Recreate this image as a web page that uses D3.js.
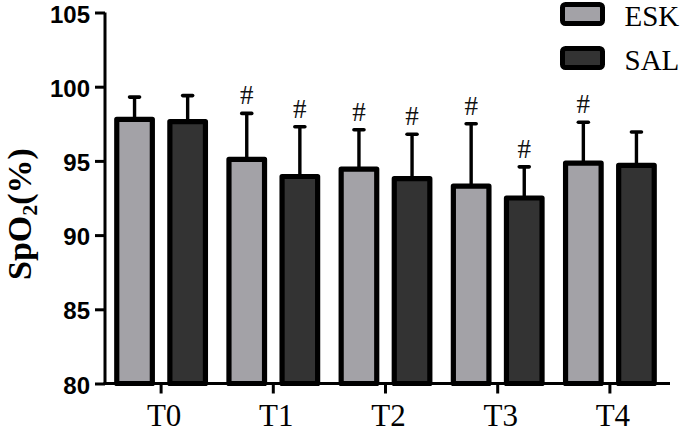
<!DOCTYPE html>
<html>
<head>
<meta charset="utf-8">
<script src="https://cdn.jsdelivr.net/npm/d3@7"></script>
<style>
  html, body { margin: 0; padding: 0; background: #fff; }
  svg { display: block; }
</style>
</head>
<body>
<svg id="chart" width="685" height="436"></svg>
<script>
// ---- data ----
const categories = ["T0", "T1", "T2", "T3", "T4"];
const seriesNames = ["ESK", "SAL"];
const eskMean = [97.8, 95.1, 94.45, 93.3, 94.85];
const eskSD   = [1.5, 3.1, 2.65, 4.2, 2.75];
const salMean = [97.65, 93.95, 93.8, 92.5, 94.7];
const salSD   = [1.75, 3.35, 3.0, 2.1, 2.25];
const eskSig  = [false, true, true, true, true];
const salSig  = [false, true, true, true, false];
const yTicks  = [80, 85, 90, 95, 100, 105];

const colors = { ESK: "#a3a2a7", SAL: "#333333" };

const svg = d3.select("#chart");

const x0 = d3.scaleBand().domain(categories).range([105, 666]).padding(0);
const x1 = d3.scaleBand().domain(seriesNames)
  .range([3, x0.bandwidth() - 3]).paddingInner(0.33).paddingOuter(0.165);
const y = d3.scaleLinear().domain([80, 105]).range([383.5, 12.5]);

const rows = categories.map((c, i) => ({
  cat: c,
  vals: [
    { s: "ESK", m: eskMean[i], sd: eskSD[i], sig: eskSig[i] },
    { s: "SAL", m: salMean[i], sd: salSD[i], sig: salSig[i] }
  ]
}));

const g = svg.append("g").selectAll("g").data(rows).join("g")
  .attr("transform", d => `translate(${x0(d.cat)},0)`);

const item = g.selectAll("g").data(d => d.vals).join("g");

// error bars
item.append("line")
  .attr("x1", d => x1(d.s) + x1.bandwidth() / 2)
  .attr("x2", d => x1(d.s) + x1.bandwidth() / 2)
  .attr("y1", d => y(d.m))
  .attr("y2", d => y(d.m + d.sd))
  .attr("stroke", "#000").attr("stroke-width", 3.4);
item.append("line")
  .attr("x1", d => x1(d.s) + x1.bandwidth() / 2 - 5)
  .attr("x2", d => x1(d.s) + x1.bandwidth() / 2 + 5)
  .attr("y1", d => y(d.m + d.sd))
  .attr("y2", d => y(d.m + d.sd))
  .attr("stroke", "#000").attr("stroke-width", 3.6)
  .attr("stroke-linecap", "round");

// bars
item.append("rect")
  .attr("x", d => x1(d.s))
  .attr("width", x1.bandwidth())
  .attr("y", d => y(d.m))
  .attr("height", d => y(80) - y(d.m))
  .attr("fill", d => colors[d.s])
  .attr("stroke", "#000").attr("stroke-width", 5.2)
  .attr("stroke-linejoin", "round");

// significance marks
item.filter(d => d.sig).append("text")
  .attr("x", d => x1(d.s) + x1.bandwidth() / 2)
  .attr("y", d => y(d.m + d.sd) - 9)
  .attr("text-anchor", "middle")
  .attr("font-family", "'Liberation Serif', 'Times New Roman', serif")
  .attr("font-size", 27)
  .attr("fill", "#111")
  .text("#");

// y axis
const yAxis = svg.append("g").attr("transform", "translate(105,0)")
  .call(d3.axisLeft(y).tickValues(yTicks).tickSize(10).tickPadding(5).tickFormat(d3.format("d")));
yAxis.select(".domain").attr("stroke", "#000").attr("stroke-width", 3)
  .attr("d", `M0,${y(105)}V${y(80) + 1.5}`);
yAxis.selectAll(".tick line").attr("stroke", "#000").attr("stroke-width", 3);
yAxis.selectAll(".tick text")
  .attr("font-family", "'Liberation Sans', Arial, sans-serif")
  .attr("font-weight", "bold").attr("font-size", 24).attr("fill", "#000")
  .attr("dy", "0.4em");

// x axis
const xAxis = svg.append("g").attr("transform", `translate(0,${y(80)})`)
  .call(d3.axisBottom(x0).tickSize(10).tickPadding(10));
xAxis.select(".domain").attr("stroke", "#000").attr("stroke-width", 3)
  .attr("d", "M103.5,0H670");
xAxis.selectAll(".tick line").attr("stroke", "#000").attr("stroke-width", 3);
xAxis.selectAll(".tick text")
  .attr("font-family", "'Liberation Serif', 'Times New Roman', serif")
  .attr("font-size", 31).attr("fill", "#000")
  .attr("dx", 3);

// y axis title
const yt = svg.append("text")
  .attr("transform", "translate(31,214) rotate(-90)")
  .attr("text-anchor", "middle")
  .attr("font-family", "'Liberation Serif', 'Times New Roman', serif")
  .attr("font-weight", "bold").attr("font-size", 34).attr("fill", "#000");
yt.append("tspan").text("SpO");
yt.append("tspan").attr("font-size", 22).attr("dy", 6).text("2");
yt.append("tspan").attr("dy", -6).text("(%)");

// legend
const leg = svg.append("g").selectAll("g").data(seriesNames).join("g")
  .attr("transform", (d, i) => `translate(562.5,${4.5 + i * 44})`);
leg.append("rect")
  .attr("width", 40).attr("height", 19).attr("rx", 3)
  .attr("fill", d => colors[d]).attr("stroke", "#000").attr("stroke-width", 5);
leg.append("text")
  .attr("x", 62).attr("y", 21)
  .attr("font-family", "'Liberation Serif', 'Times New Roman', serif")
  .attr("font-size", 29).attr("fill", "#000")
  .text(d => d);
</script>
</body>
</html>
